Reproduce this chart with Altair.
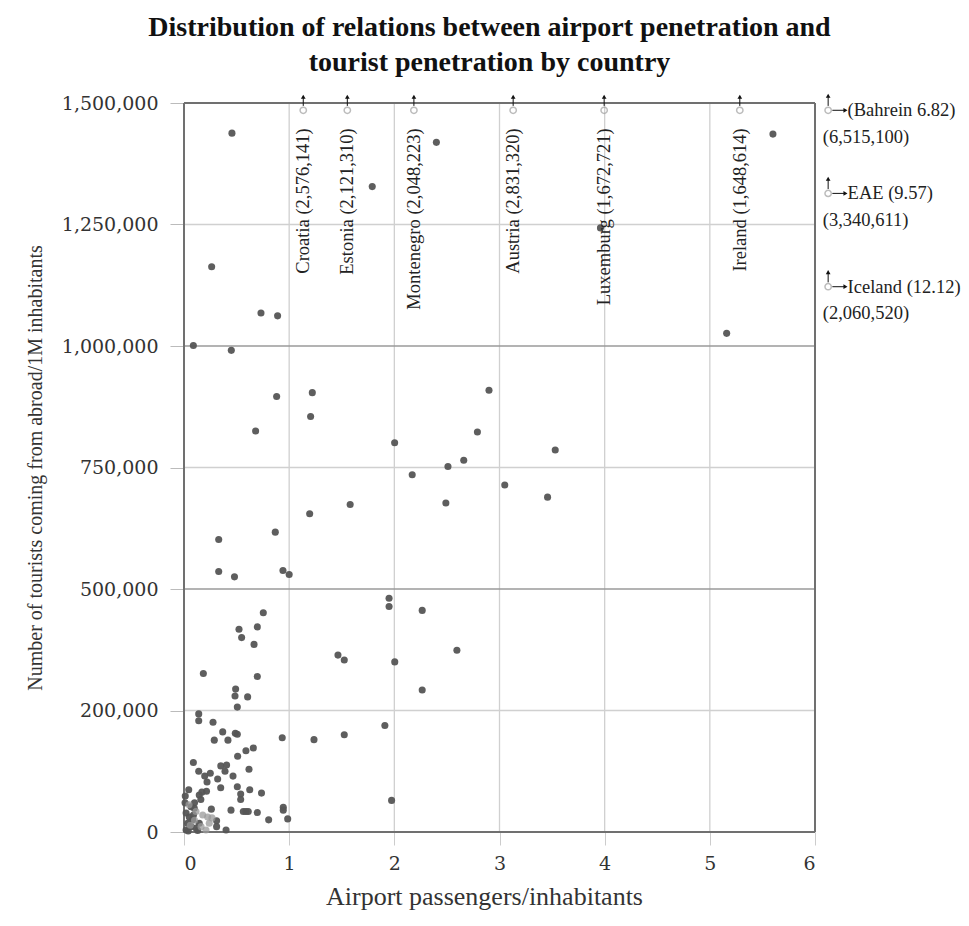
import altair as alt
import pandas as pd

# ---------------- data ----------------
pts_x = [0.456, 1.79, 2.40, 0.263, 5.60, 3.96, 5.16, 0.732, 0.89, 0.089, 0.45, 0.881, 1.22, 1.204,
         0.681, 2.003, 2.90, 2.79, 2.66, 2.51, 3.53, 2.17, 3.05, 3.457, 2.49, 1.58, 1.195, 0.868,
         0.33, 0.33, 0.48, 0.941, 1.00, 1.95, 1.95, 2.265, 0.754, 0.697, 0.523, 0.548, 0.666,
         1.464, 1.524, 2.004, 2.595, 0.184, 0.697, 0.491, 0.485, 0.605, 2.265, 0.507, 0.14, 0.14,
         0.276, 1.91, 0.368, 0.488, 0.507, 1.524, 0.934, 1.236, 0.288, 0.418, 0.659, 0.589, 0.51,
         0.089, 0.35, 0.405, 0.618, 0.14, 0.39, 0.25, 0.197, 0.466, 0.32, 0.219, 0.507, 0.349,
         0.045, 0.214, 0.625, 0.737, 0.17, 0.539, 0.012, 0.145, 0.539, 0.16, 0.10, 1.974, 0.944,
         0.944, 0.26, 0.447, 0.564, 0.589, 0.611, 0.697, 0.805, 0.986, 0.40, 0.31, 0.31,
         0.067, 0.098, 0.02, 0.05, 0.083, 0.035, 0.067, 0.02, 0.114, 0.145, 0.01, 0.04, 0.09, 0.13]
pts_y = [1438000, 1328000, 1419000, 1163000, 1436000, 1243000, 1026000, 1068000, 1062000, 1001000,
         991000, 896000, 904000, 855000, 825000, 801000, 909000, 823000, 765000, 752000, 786000,
         735000, 714000, 689000, 677000, 674000, 655000, 617000, 602000, 536000, 525000, 538000,
         530000, 481000, 464000, 456000, 451000, 422000, 417000, 400000, 386000, 364000, 354000,
         350000, 374000, 326000, 320000, 294000, 280000, 278000, 292000, 257000, 243000, 229000,
         226000, 219000, 206000, 203000, 201000, 200000, 194000, 190000, 189000, 189000, 173000,
         167000, 156000, 143000, 136000, 138000, 129000, 125000, 125000, 121000, 115000, 115000,
         109000, 103000, 93000, 91000, 87000, 84000, 87000, 80000, 82000, 78000, 74000, 76000,
         67000, 67000, 60000, 65000, 51000, 45000, 47000, 45000, 42000, 42000, 42000, 40000,
         25000, 27000, 4000, 23000, 11000,
         52000, 49000, 39000, 31000, 25000, 18000, 11000, 4000, 8000, 18000, 60000, 2000, 35000, 3000]

light_x = [0.114, 0.178, 0.225, 0.24, 0.209, 0.162, 0.048, 0.266, 0.10, 0.06]
light_y = [42000, 35000, 31000, 18000, 4000, 11000, 56000, 29000, 24000, 14000]

# countries above the top of the scale (tourists/1M inhabitants given in brackets)
top_names = ["Croatia", "Estonia", "Montenegro", "Austria", "Luxemburg", "Ireland"]
top_x = [1.134, 1.553, 2.186, 3.13, 3.995, 5.285]
top_values = ["2,576,141", "2,121,310", "2,048,223", "2,831,320", "1,672,721", "1,648,614"]

# countries beyond the right edge (passengers/inhabitants, tourists/1M inhabitants)
side_names = ["Bahrein", "EAE", "Iceland"]
side_ratio = ["6.82", "9.57", "12.12"]
side_values = ["6,515,100", "3,340,611", "2,060,520"]
side_row = [1485000, 1314000, 1122000]   # where each note sits along the right edge

x_ticks = [0, 1, 2, 3, 4, 5, 6]
y_ticks = [0, 250000, 500000, 750000, 1000000, 1250000, 1500000]
major_y = [500000, 1000000]
minor_y = [250000, 750000, 1250000]
minor_x = [1, 2, 3, 4, 5]

TOP_CAP = 1485000
X_EDGE = 6.125

SERIF = "Liberation Serif"
TICKFONT = "DejaVu Serif"

# ---------------- tables ----------------
pts = pd.DataFrame({"x": pts_x, "y": pts_y})
light = pd.DataFrame({"x": light_x, "y": light_y})
top = pd.DataFrame({"name": top_names, "x": top_x, "val": top_values})
top["y"] = TOP_CAP
top["y_a"] = TOP_CAP + 9000
top["y_tip"] = TOP_CAP + 28000
top["label"] = top["name"] + " (" + top["val"] + ")"
top["y_lab"] = 1448000

side = pd.DataFrame({"name": side_names, "ratio": side_ratio, "val": side_values, "y": side_row})
side["x"] = X_EDGE
side["x_a"] = X_EDGE + 0.04
side["x_tip"] = 6.29
side["y_a"] = side["y"] + 9000
side["y_tip"] = side["y"] + 30000
side["x_l1"] = 6.31
side["x_l2"] = 6.074
side["y_l2"] = side["y"] - 54000
side["l1"] = side["name"] + " (" + side["ratio"] + ")"
side.loc[side["name"] == "Bahrein", "l1"] = "(Bahrein " + side["ratio"] + ")"
side["l2"] = "(" + side["val"] + ")"

xs = alt.Scale(domain=[0, 6], nice=False)
ys = alt.Scale(domain=[0, 1500000], nice=False)

base_x = alt.X("x:Q", scale=xs,
               axis=alt.Axis(values=x_ticks, title="Airport passengers/inhabitants", grid=False,
                             format="d",
                             domain=False, tickColor="#cccccc", tickSize=13, labelPadding=9,
                             labelFont=TICKFONT, labelFontSize=19, labelColor="#333333",
                             titleFont=SERIF, titleFontSize=26, titleFontWeight="normal",
                             titleColor="#333333", titlePadding=10, titleX=300))
base_y = alt.Y("y:Q", scale=ys,
               axis=alt.Axis(values=y_ticks, title="Number of tourists coming from abroad/1M inhabitants",
                             labelExpr="datum.value == 250000 ? '200,000' : format(datum.value, ',')",
                             grid=False, domain=False, tickColor="#bbbbbb", tickSize=14, labelPadding=12,
                             labelFont=TICKFONT, labelFontSize=19, labelColor="#333333",
                             titleFont=SERIF, titleFontSize=20, titleFontWeight="normal",
                             titleColor="#333333", titlePadding=16))

scatter = alt.Chart(pts).mark_circle(size=50, color="#555555", opacity=0.95).encode(x=base_x, y=base_y)
scatter_l = alt.Chart(light).mark_circle(size=50, color="#9a9a9a", opacity=0.75).encode(x="x:Q", y="y:Q")

vgrid = alt.Chart(pd.DataFrame({"x": minor_x})).mark_rule(color="#d0d0d0", strokeWidth=1.3).encode(x="x:Q")
hgrid_min = alt.Chart(pd.DataFrame({"y": minor_y})).mark_rule(color="#d0d0d0", strokeWidth=1.3).encode(y="y:Q")
hgrid_maj = alt.Chart(pd.DataFrame({"y": major_y})).mark_rule(color="#9a9a9a", strokeWidth=1.3).encode(y="y:Q")
frame_h = alt.Chart(pd.DataFrame({"y": [0, 1500000]})).mark_rule(color="#707070", strokeWidth=2).encode(y="y:Q")
frame_v = alt.Chart(pd.DataFrame({"x": [0, 6]})).mark_rule(color="#707070", strokeWidth=2).encode(x="x:Q")

# arrows for off-scale countries
top_stem = alt.Chart(top).mark_rule(color="#111111", strokeWidth=1).encode(x="x:Q", y="y_a:Q", y2="y_tip:Q")
top_head = alt.Chart(top).mark_point(shape="triangle-up", filled=True, size=22, color="#111111",
                                     opacity=1).encode(x="x:Q", y="y_tip:Q")
top_ring = alt.Chart(top).mark_point(shape="circle", filled=False, size=40, color="#a0a0a0",
                                     strokeWidth=1.5).encode(x="x:Q", y="y:Q")
top_text = alt.Chart(top).mark_text(angle=270, align="right", baseline="middle", font=SERIF,
                                    fontSize=18.5, color="#222222").encode(x="x:Q", y="y_lab:Q", text="label:N")

side_stem = alt.Chart(side).mark_rule(color="#111111", strokeWidth=1).encode(x="x:Q", y="y_a:Q", y2="y_tip:Q")
side_head = alt.Chart(side).mark_point(shape="triangle-up", filled=True, size=22, color="#111111",
                                       opacity=1).encode(x="x:Q", y="y_tip:Q")
side_hstem = alt.Chart(side).mark_rule(color="#111111", strokeWidth=1).encode(x="x_a:Q", x2="x_tip:Q", y="y:Q")
side_hhead = alt.Chart(side).mark_point(shape="triangle-right", filled=True, size=22, color="#111111",
                                        opacity=1).encode(x="x_tip:Q", y="y:Q")
side_ring = alt.Chart(side).mark_point(shape="circle", filled=False, size=40, color="#a0a0a0",
                                       strokeWidth=1.5).encode(x="x:Q", y="y:Q")
side_t1 = alt.Chart(side).mark_text(align="left", baseline="middle", font=SERIF, fontSize=18.5,
                                    color="#222222").encode(x="x_l1:Q", y="y:Q", text="l1:N")
side_t2 = alt.Chart(side).mark_text(align="left", baseline="middle", font=SERIF, fontSize=18.5,
                                    color="#222222").encode(x="x_l2:Q", y="y_l2:Q", text="l2:N")

chart = alt.layer(
    vgrid, hgrid_min, hgrid_maj, frame_h, frame_v,
    scatter, scatter_l,
    top_stem, top_head, top_ring, top_text,
    side_stem, side_head, side_hstem, side_hhead, side_ring, side_t1, side_t2,
).properties(
    width=631, height=729,
    title=alt.TitleParams(["Distribution of relations between airport penetration and",
                           "tourist penetration by country"],
                          font=SERIF, fontSize=28, fontWeight="bold", color="#111111",
                          anchor="middle", lineHeight=35, offset=17, dx=-10),
    autosize=alt.AutoSizeParams(type="none"),
    padding={"left": 176, "top": 95, "right": 146, "bottom": 86},
).configure_view(stroke=None).configure(background="white")

chart.save("out.html", embed_options={"renderer": "svg", "actions": False})
